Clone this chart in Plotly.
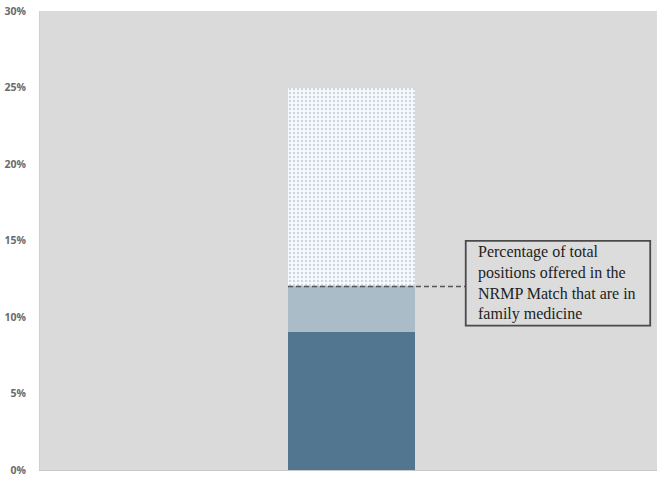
import plotly.graph_objects as go

categories = ["Family medicine"]
dark_share = [9.0]        # bottom segment
light_share = [3.0]       # 9% -> 12%
dotted_share = [13.0]     # 12% -> 25%
match_share = 12.0        # level marked by dashed line
tick_vals = [0, 5, 10, 15, 20, 25, 30]
tick_text = ["0%", "5%", "10%", "15%", "20%", "25%", "30%"]
note_text = ("Percentage of total<br>positions offered in the<br>"
             "NRMP Match that are in<br>family medicine")

BAR_W = 0.206
fig = go.Figure()
fig.add_trace(go.Bar(x=categories, y=dark_share, width=BAR_W,
                     marker=dict(color="#52768f", line=dict(width=0))))
fig.add_trace(go.Bar(x=categories, y=light_share, width=BAR_W,
                     marker=dict(color="#a9bcc7", line=dict(width=0))))
fig.add_trace(go.Bar(x=categories, y=dotted_share, width=BAR_W,
                     marker=dict(color="#f7f9fb", line=dict(width=0),
                                 pattern=dict(shape=".", fgcolor="#cad8e4",
                                              bgcolor="#f8fafc", size=4,
                                              solidity=0.3, fillmode="replace"))))

# dashed line across the bar at the match share, leading to the note box
fig.add_shape(type="line", xref="x", yref="y",
              x0=-BAR_W / 2, x1=0.185, y0=match_share, y1=match_share,
              line=dict(color="#555555", width=1.5, dash="5px,3px"))

# note box
fig.add_shape(type="rect", xref="paper", yref="paper",
              x0=0.690, x1=0.989, y0=0.3145, y1=0.499,
              line=dict(color="#4a4a4a", width=1.8), fillcolor="#dcdcdc", layer="above")
fig.add_annotation(xref="paper", yref="paper", x=0.709, y=0.407,
                   xanchor="left", yanchor="middle", text=note_text, showarrow=False,
                   align="left", font=dict(family="Liberation Serif", size=16, color="#222222"),
                   borderpad=0)

fig.update_layout(
    width=660, height=477, barmode="stack", showlegend=False,
    margin=dict(l=40, r=3, t=11, b=7, autoexpand=False),
    paper_bgcolor="#ffffff", plot_bgcolor="#dadada",
    xaxis=dict(range=[-0.505, 0.495], showticklabels=False, showgrid=False,
               automargin=False,
               zeroline=False, showline=True, linecolor="#c8c8c8", linewidth=1),
    yaxis=dict(range=[0, 30], tickvals=tick_vals, ticktext=tick_text,
               automargin=False, ticklabeloverflow="allow",
               showgrid=False, zeroline=False, ticks="", ticklen=0,
               ticklabelstandoff=11,
               tickfont=dict(family="Open Sans", size=10.5, color="#6a6a6a", weight="bold"),
               showline=True, linecolor="#cfcfcf", linewidth=1),
    font=dict(family="Open Sans"),
)
fig.write_html("out.html", config={"displayModeBar": False},
               post_script="document.body.style.margin='0';")
